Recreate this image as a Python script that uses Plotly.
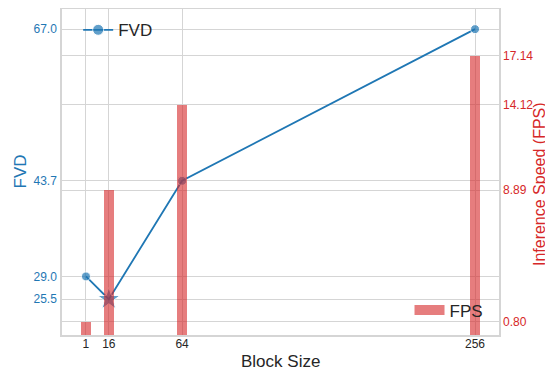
import plotly.graph_objects as go

block_sizes = [1, 16, 64, 256]
fvd = [29.0, 25.5, 43.7, 67.0]
fps = [0.80, 8.89, 14.12, 17.14]
fvd_ticks = [25.5, 29.0, 43.7, 67.0]
fps_ticks = [0.80, 8.89, 14.12, 17.14]
x_ticks = [1, 16, 64, 256]

BLUE = "#1f77b4"
RED = "#d62728"
BAR = "rgba(214,39,40,0.6)"
GRID = "#d5d5d5"
FONT = "Liberation Sans, Arial, sans-serif"

fig = go.Figure()

fig.add_trace(go.Scatter(
    x=block_sizes, y=fvd, mode="lines+markers", name="FVD",
    line=dict(color=BLUE, width=1.8),
    marker=dict(color=BLUE, size=[9, 17, 9, 9],
                symbol=["circle", "star", "circle", "circle"]),
    yaxis="y", legend="legend",
))

fig.add_trace(go.Bar(
    x=block_sizes, y=fps, name="FPS", width=6.5,
    marker=dict(color=BAR, line=dict(width=0)),
    yaxis="y2", showlegend=False,
))
fig.add_trace(go.Scatter(
    x=[None], y=[None], mode="lines", name="FPS",
    line=dict(color=BAR, width=12), yaxis="y2", legend="legend2",
))

# The page body has an 8px default margin, so the figure is offset by 8px.
fig.update_layout(
    width=545, height=362,
    margin=dict(l=54, r=54, t=1, b=35, autoexpand=False),
    paper_bgcolor="white", plot_bgcolor="white",
    font=dict(family=FONT, size=12, color="#262626"),
    bargap=0,
    xaxis=dict(
        range=[-14.7, 271.7], tickvals=x_ticks, ticktext=[str(v) for v in x_ticks],
        showgrid=True, gridcolor=GRID, gridwidth=1, zeroline=False,
        showline=True, linecolor=GRID, linewidth=1.5, mirror=True,
        ticks="", tickfont=dict(size=12, color="#262626"), automargin=False,
        ticklabelstandoff=-3,
    ),
    yaxis=dict(
        range=[20.0, 70.1], tickvals=fvd_ticks, ticktext=[f"{v:.1f}" for v in fvd_ticks],
        showgrid=True, gridcolor=GRID, gridwidth=1, zeroline=False,
        showline=True, linecolor=GRID, linewidth=1.5, mirror=True,
        ticks="", tickfont=dict(size=12, color=BLUE), automargin=False,
        ticklabelstandoff=1,
    ),
    yaxis2=dict(
        range=[0, 20.0], tickvals=fps_ticks, ticktext=[f"{v:.2f}" for v in fps_ticks],
        overlaying="y", side="right",
        showgrid=True, gridcolor=GRID, gridwidth=1, zeroline=False,
        showline=False, ticks="", tickfont=dict(size=12, color=RED), automargin=False,
        ticklabelstandoff=3,
    ),
    legend=dict(
        x=0.037, y=0.99, xanchor="left", yanchor="top",
        bgcolor="rgba(255,255,255,0)", font=dict(size=17, color="#262626"),
    ),
    legend2=dict(
        x=0.976, y=0.02, xanchor="right", yanchor="bottom",
        bgcolor="rgba(255,255,255,0)", font=dict(size=17, color="#262626"),
    ),
    annotations=[
        dict(text="Block Size", xref="paper", yref="paper", x=0.5, y=0,
             xanchor="center", yanchor="middle", yshift=-26, showarrow=False,
             font=dict(size=17, color="#262626")),
        dict(text="FVD", xref="paper", yref="paper", x=0, y=0.5, xshift=-42.5,
             xanchor="center", yanchor="middle", textangle=-90, showarrow=False,
             font=dict(size=17, color=BLUE)),
        dict(text="Inference Speed (FPS)", xref="paper", yref="paper", x=1, y=0.463,
             xshift=40, xanchor="center", yanchor="middle", textangle=-90,
             showarrow=False, font=dict(size=16, color=RED)),
    ],
)

fig.write_html("out.html")
